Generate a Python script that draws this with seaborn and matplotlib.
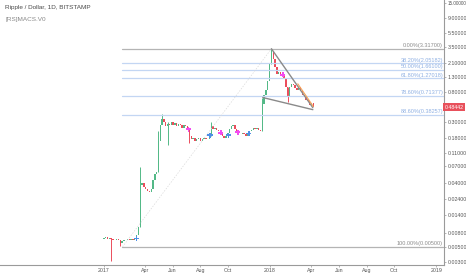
import numpy as np
import pandas as pd
import matplotlib
matplotlib.use("Agg")
import matplotlib.pyplot as plt
import matplotlib.transforms as mtransforms
import seaborn as sns

sns.set_theme(style="white")
plt.rcParams["font.family"] = ["Liberation Sans", "DejaVu Sans"]

# ---------------- data ----------------
candle_start = "2017-01-01"
candle_step_days = 4
first_open = 0.0065
closes = [
    0.0066, 0.0068, 0.0065, 0.0067, 0.0064, 0.0063, 0.0062, 0.0064, 0.0062, 0.0056,
    0.0061, 0.0063, 0.0062, 0.0064, 0.0063, 0.0065, 0.0063, 0.0066, 0.0075, 0.0095,
    0.038, 0.040, 0.036, 0.033, 0.031, 0.030, 0.033, 0.045, 0.055, 0.058,
    0.16, 0.27, 0.33, 0.30, 0.26, 0.28, 0.27, 0.30, 0.27, 0.29,
    0.26, 0.28, 0.27, 0.25, 0.27, 0.26, 0.24, 0.19, 0.17, 0.18,
    0.16, 0.17, 0.18, 0.16, 0.17, 0.18, 0.17, 0.17, 0.19, 0.26,
    0.24, 0.25, 0.23, 0.22, 0.20, 0.19, 0.18, 0.19, 0.21, 0.24,
    0.26, 0.27, 0.24, 0.21, 0.20, 0.20, 0.21, 0.20, 0.19, 0.21,
    0.22, 0.23, 0.25, 0.24, 0.25, 0.23, 0.22, 0.55, 0.72, 0.85,
    1.15, 2.00, 3.10, 2.40, 1.85, 1.45, 1.55, 1.40, 1.45, 1.25,
    0.95, 0.70, 0.95, 1.05, 1.00, 0.92, 0.85, 0.95, 0.82, 0.72,
    0.68, 0.62, 0.60, 0.52, 0.56, 0.48442,
]
wick_idx = [4, 9, 20, 30, 32, 35, 47, 59, 87, 92, 101]
wick_low = [0.0031, 0.0051, 0.0095, 0.058, 0.30, 0.14, 0.15, 0.19, 0.22, 2.0, 0.58]
wick_high = [0.0067, 0.0062, 0.068, 0.22, 0.39, 0.30, 0.24, 0.30, 0.65, 3.317, 0.95]

fib_pct = ["0.00%", "38.20%", "50.00%", "61.80%", "78.60%", "88.60%", "100.00%"]
fib_val = [3.31700, 2.05182, 1.66100, 1.27018, 0.71377, 0.38257, 0.00500]
fib_start = "2017-02-11"
fib_end = "2019-01-16"
fib_low_date = "2017-02-11"
fib_high_date = "2018-01-04"

sig_dates = ["2017-03-14", "2017-07-06", "2017-08-22", "2017-09-15", "2017-10-02",
             "2017-10-22", "2017-11-15", "2018-01-29"]
sig_prices = [0.0066, 0.236, 0.194, 0.21, 0.194, 0.215, 0.205, 1.41]
sig_kind = ["buy", "sell", "buy", "sell", "buy", "sell", "buy", "sell"]

tri_upper_d = ["2018-01-04", "2018-04-05"]
tri_upper_p = [3.317, 0.48]
tri_lower_d = ["2017-12-16", "2018-04-05"]
tri_lower_p = [0.67, 0.45]
chan_d = ["2018-03-03", "2018-04-06"]
chan_p = [1.05, 0.50]

last_price = 0.48442
y_ticks = [0.003, 0.005, 0.008, 0.014, 0.024, 0.04, 0.07, 0.11, 0.18, 0.3,
           0.8, 1.3, 2.1, 3.5, 5.5, 9.0, 15.0]
x_tick_dates = ["2017-01-01", "2017-04-01", "2017-06-01", "2017-08-01", "2017-10-01",
                "2018-01-01", "2018-04-01", "2018-06-01", "2018-08-01", "2018-10-01",
                "2019-01-01"]
x_tick_labels = ["2017", "Apr", "Jun", "Aug", "Oct", "2018", "Apr", "Jun", "Aug", "Oct", "2019"]

# ---------------- frame ----------------
dates = pd.date_range(candle_start, periods=len(closes), freq=f"{candle_step_days}D")
opens = [first_open] + closes[:-1]
df = pd.DataFrame({"date": dates, "open": opens, "close": closes})
df["up"] = df["close"] >= df["open"]

W, H = 466, 275
fig = plt.figure(figsize=(W / 100, H / 100), dpi=100)
ax = fig.add_axes([0, 10 / H, 444 / W, 265 / H])
ax.set_yscale("log")

GREEN = "#53b987"
RED = "#eb4d5c"

# candle bodies
for up, col in [(True, GREEN), (False, RED)]:
    sub = df[df["up"] == up]
    lo = np.minimum(sub["open"], sub["close"])
    hi = np.maximum(sub["open"], sub["close"]) * 1.0001
    ax.bar(sub["date"], hi - lo, bottom=lo, width=3.0, color=col, linewidth=0)
# wicks
wd = df["date"].iloc[wick_idx]
wc = [GREEN if u else RED for u in df["up"].iloc[wick_idx]]
ax.vlines(wd, wick_low, wick_high, colors=wc, linewidth=0.7)

# fib retracement
fs, fe = pd.Timestamp(fib_start), pd.Timestamp(fib_end)
for pct, v in zip(fib_pct, fib_val):
    gray = pct in ("0.00%", "100.00%")
    lc = "#b4b4b4" if gray else "#c3d6f3"
    tc = "#8c8c8c" if gray else "#8fb0e3"
    sns.lineplot(x=[fs, fe], y=[v, v], ax=ax, color=lc, linewidth=0.9)
    ax.text(fe, v * 1.015, f"{pct}({v:.5f})", ha="right", va="bottom",
            fontsize=4.0, color=tc)
sns.lineplot(x=[pd.Timestamp(fib_low_date), pd.Timestamp(fib_high_date)],
             y=[fib_val[-1], fib_val[0]], ax=ax, color="#d9d9d9",
             linewidth=0.5, linestyle=(0, (2, 2)))

# triangle and channel
sns.lineplot(x=pd.to_datetime(tri_upper_d), y=tri_upper_p, ax=ax, color="#8a8a8a", linewidth=1.0)
sns.lineplot(x=pd.to_datetime(tri_lower_d), y=tri_lower_p, ax=ax, color="#8a8a8a", linewidth=1.0)
sns.lineplot(x=pd.to_datetime(chan_d), y=chan_p, ax=ax, color="#f6a55a", linewidth=0.8)

# signals
sig = pd.DataFrame({"date": pd.to_datetime(sig_dates), "price": sig_prices, "kind": sig_kind})
sns.scatterplot(data=sig, x="date", y="price", hue="kind", ax=ax, marker="P", s=14,
                palette={"buy": "#4f8fe6", "sell": "#f24cf0"}, linewidth=0, legend=False, zorder=5)

# axes styling
ax.set_xlim(pd.Timestamp("2016-05-18"), pd.Timestamp("2019-01-18"))
ax.set_ylim(0.00276, 16.4)
ax.set_xlabel("")
ax.set_ylabel("")
ax.yaxis.tick_right()
ax.set_yticks(y_ticks)
ax.set_yticklabels([f"{t:.5f}" for t in y_ticks])
ax.yaxis.set_minor_locator(matplotlib.ticker.NullLocator())
ax.set_xticks(pd.to_datetime(x_tick_dates))
ax.set_xticklabels(x_tick_labels)
ax.tick_params(axis="y", which="major", right=True, length=1.5, width=0.5, color="#999999",
               labelsize=3.8, labelcolor="#555555", pad=1.0)
ax.tick_params(axis="x", which="major", bottom=True, length=1.5, width=0.5, color="#999999",
               labelsize=3.8, labelcolor="#555555", pad=1.0)
# the widest (top) label is slightly smaller so it fits inside the figure
ax.get_yticklabels()[-1].set_fontsize(3.3)
for s in ["left", "top"]:
    ax.spines[s].set_visible(False)
for s in ["right", "bottom"]:
    ax.spines[s].set_visible(True)
    ax.spines[s].set_color("#9a9a9a")
    ax.spines[s].set_linewidth(0.8)

# last price label
trans = mtransforms.blended_transform_factory(ax.transAxes, ax.transData)
ax.text(1.002, last_price, f"{last_price:.5f}", transform=trans, ha="left", va="center",
        fontsize=3.8, color="white", clip_on=False,
        bbox=dict(boxstyle="square,pad=0.3", facecolor="#e8505b", edgecolor="none"))

fig.text(5 / W, 1 - 8 / H, "Ripple / Dollar, 1D, BITSTAMP", fontsize=4.6, color="#4a4a4a",
         ha="left", va="center")
fig.text(5 / W, 1 - 19 / H, "[RS]MACS.V0", fontsize=4.6, color="#888888", ha="left", va="center")

fig.savefig("out.png", dpi=100)
